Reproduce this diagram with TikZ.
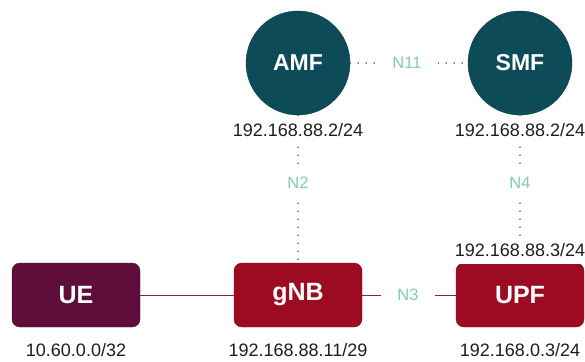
\documentclass[tikz,border=0pt]{standalone}
\usepackage{fontspec}
\setmainfont{Liberation Sans}
\definecolor{corecol}{RGB}{14,75,89}
\definecolor{rancol}{RGB}{156,11,33}
\definecolor{uecol}{RGB}{95,14,60}
\definecolor{ifcol}{RGB}{130,205,170}
\definecolor{dotcol}{RGB}{70,95,90}
\definecolor{linecol}{RGB}{125,40,62}
\definecolor{iptext}{RGB}{30,30,30}
\tikzset{
  core/.style={circle, fill=corecol, draw=corecol!80!black, minimum size=104pt, inner sep=0pt, text=white, font=\fontsize{23}{27}\selectfont\bfseries},
  ran/.style={rounded corners=8pt, fill=rancol, draw=rancol!75!black, minimum width=128pt, minimum height=64pt, text=white, font=\fontsize{25}{30}\selectfont\bfseries},
  ip/.style={fill=white, inner ysep=7pt, text=iptext, font=\fontsize{18}{22}\selectfont},
  iface/.style={fill=white, inner xsep=16pt, inner ysep=10pt, text=ifcol, font=\fontsize{16.5}{19}\selectfont},
  ctrl/.style={draw=dotcol, line width=1.8pt, line cap=round, dash pattern=on 0pt off 8pt},
  user/.style={draw=linecol, line width=0.8pt}
}
\begin{document}
\begin{tikzpicture}[x=1pt,y=-1pt]
\useasboundingbox (0,0) rectangle (585,361);
% network functions
\node[core] (amf) at (298,63) {AMF};
\node[core] (smf) at (520,63) {SMF};
\node[ran, fill=uecol, draw=uecol!75!black] (ue) at (76,295) {UE};
\node[ran] (gnb) at (298,295) {gNB};
\node[ran] (upf) at (520,295) {UPF};
\node[ip] (upfn4) at (520,250) {192.168.88.3/24};
% interfaces
\draw[ctrl] (amf) -- (smf);
\draw[ctrl] (amf) -- (gnb);
\draw[ctrl] (smf) -- (upfn4);
\draw[user] (ue) -- (gnb);
\draw[user] (gnb) -- (upf);
\node[iface] (n11) at (407,63) {N11};
\node[iface] (n2) at (298,183) {N2};
\node[iface] (n4) at (520,183) {N4};
\node[iface] (n3) at (408,295) {N3};
% addresses
\node[ip] (amfip) at (298,130) {192.168.88.2/24};
\node[ip] (smfip) at (520,130) {192.168.88.2/24};
\node[ip] (ueip) at (76,350) {10.60.0.0/32};
\node[ip] (gnbip) at (298,350) {192.168.88.11/29};
\node[ip] (upfip) at (520,350) {192.168.0.3/24};
\end{tikzpicture}
\end{document}
